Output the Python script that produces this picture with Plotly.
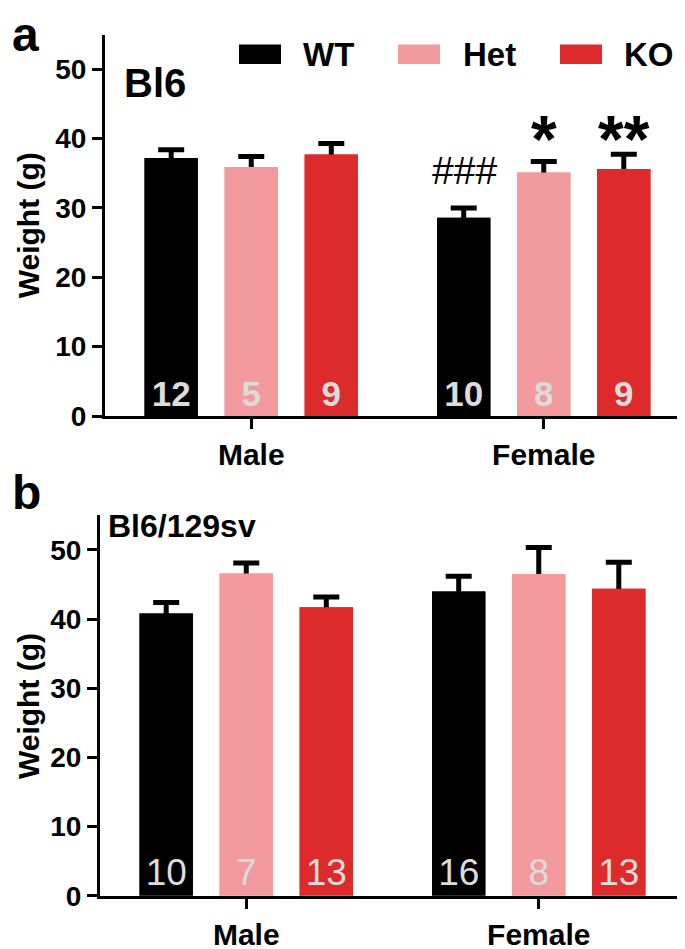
import plotly.graph_objects as go

# Body weight by sex and genotype, two strains
groups = ["Male", "Female"]
genotypes = ["WT", "Het", "KO"]
colors = {"WT": "#000000", "Het": "#f29a9e", "KO": "#dd2a2b"}

# panel a: Bl6
bl6_wt = [37.2, 28.6]
bl6_het = [35.9, 35.1]
bl6_ko = [37.7, 35.6]
bl6_wt_sem = [1.2, 1.4]
bl6_het_sem = [1.5, 1.6]
bl6_ko_sem = [1.6, 2.15]
bl6_wt_n = [12, 10]
bl6_het_n = [5, 8]
bl6_ko_n = [9, 9]

# panel b: Bl6/129sv
mix_wt = [40.8, 44.0]
mix_het = [46.6, 46.5]
mix_ko = [41.7, 44.4]
mix_wt_sem = [1.6, 2.2]
mix_het_sem = [1.5, 3.85]
mix_ko_sem = [1.5, 3.8]
mix_wt_n = [10, 16]
mix_het_n = [7, 8]
mix_ko_n = [13, 13]

W, H = 685, 949
FONT = "Liberation Sans, Arial, sans-serif"


def px(x):
    return x / W


def py(y):
    return 1 - y / H


def add_panel(fig, xa, ya, means, sems, ns, bold_n):
    for g, m, s, n in zip(genotypes, means, sems, ns):
        # first copy carries the error bar, second copy hides its lower cap
        fig.add_trace(go.Bar(
            x=groups, y=m, xaxis=xa, yaxis=ya, offsetgroup=g,
            marker=dict(color=colors[g], line=dict(width=0)),
            error_y=dict(type="data", symmetric=False, array=s,
                         arrayminus=[0.6] * len(s), color="black",
                         thickness=5, width=13),
            showlegend=False, hoverinfo="skip",
        ))
        fig.add_trace(go.Bar(
            x=groups, y=m, xaxis=xa, yaxis=ya, offsetgroup=g,
            marker=dict(color=colors[g], line=dict(width=0)),
            text=[str(v) for v in n], textposition="inside",
            insidetextanchor="start", textangle=0,
            textfont=dict(family=FONT, size=35 if bold_n else 37,
                          color="#dcdcdc",
                          weight="bold" if bold_n else "normal"),
            showlegend=False, name=g,
        ))


fig = go.Figure()
add_panel(fig, "x", "y", [bl6_wt, bl6_het, bl6_ko],
          [bl6_wt_sem, bl6_het_sem, bl6_ko_sem],
          [bl6_wt_n, bl6_het_n, bl6_ko_n], True)
add_panel(fig, "x2", "y2", [mix_wt, mix_het, mix_ko],
          [mix_wt_sem, mix_het_sem, mix_ko_sem],
          [mix_wt_n, mix_het_n, mix_ko_n], False)

xcommon = dict(showline=True, linewidth=3, linecolor="black", ticks="outside",
               ticklen=10, tickwidth=3, tickcolor="black", range=[-0.5, 1.5],
               tickfont=dict(family=FONT, size=30, color="black", weight="bold"),
               showgrid=False, zeroline=False, fixedrange=True)
ycommon = dict(showline=True, linewidth=3, linecolor="black", ticks="outside",
               ticklen=10, tickwidth=3, tickcolor="black", range=[0, 55],
               dtick=10, tick0=0,
               tickfont=dict(family=FONT, size=28, color="black", weight="bold"),
               showgrid=False, zeroline=False, fixedrange=True)

fig.update_layout(
    width=W, height=H,
    margin=dict(l=0, r=0, t=0, b=0),
    paper_bgcolor="white", plot_bgcolor="white",
    barmode="group", bargap=0.179, bargroupgap=0.334,
    font=dict(family=FONT, color="black"),
    xaxis=dict(xcommon, domain=[px(97), px(682)], anchor="y"),
    yaxis=dict(ycommon, domain=[py(415), py(27)], anchor="x"),
    xaxis2=dict(xcommon, domain=[px(92), px(677)], anchor="y2"),
    yaxis2=dict(ycommon, domain=[py(903), py(516)], anchor="x2"),
)

ann = []
# panel letters and strain labels
ann.append(dict(x=px(2), y=py(-2), text="<b>a</b>", xanchor="left", yanchor="top",
                font=dict(size=48)))
ann.append(dict(x=px(2), y=py(464), text="<b>b</b>", xanchor="left", yanchor="top",
                font=dict(size=48)))
ann.append(dict(x=px(114), y=py(76), text="<b>Bl6</b>", xanchor="left",
                yanchor="middle", font=dict(size=40)))
ann.append(dict(x=px(98), y=py(527), text="<b>Bl6/129sv</b>", xanchor="left",
                yanchor="middle", font=dict(size=32)))
# y titles
for yc in (221, 710):
    ann.append(dict(x=px(20), y=py(yc), text="<b>Weight (g)</b>", textangle=-90,
                    xanchor="center", yanchor="middle", font=dict(size=30)))
for a in ann:
    a.update(xref="paper", yref="paper", showarrow=False)

# significance marks
ann.append(dict(x="Female", xshift=-79, y=35.4, xref="x", yref="y", text="###",
                showarrow=False, yanchor="middle", font=dict(size=39)))
ann.append(dict(x="Female", xshift=0, y=40.0, xref="x", yref="y", text="<b>*</b>",
                showarrow=False, yanchor="middle", font=dict(size=66)))
ann.append(dict(x="Female", xshift=80, y=40.0, xref="x", yref="y", text="<b>**</b>",
                showarrow=False, yanchor="middle", font=dict(size=66)))

# legend drawn by hand to get wide swatches
shapes = []
legend_x = {"WT": (231, 293), "Het": (390, 453), "KO": (552, 614)}
for g in genotypes:
    sx, tx = legend_x[g]
    shapes.append(dict(type="rect", xref="paper", yref="paper",
                       x0=px(sx), x1=px(sx + 42), y0=py(57), y1=py(37),
                       fillcolor=colors[g], line=dict(width=0)))
    ann.append(dict(x=px(tx), y=py(47), xref="paper", yref="paper", showarrow=False,
                    text="<b>%s</b>" % g, xanchor="left", yanchor="middle",
                    font=dict(size=33)))

fig.update_layout(annotations=ann, shapes=shapes)

fig.write_html("out.html")
